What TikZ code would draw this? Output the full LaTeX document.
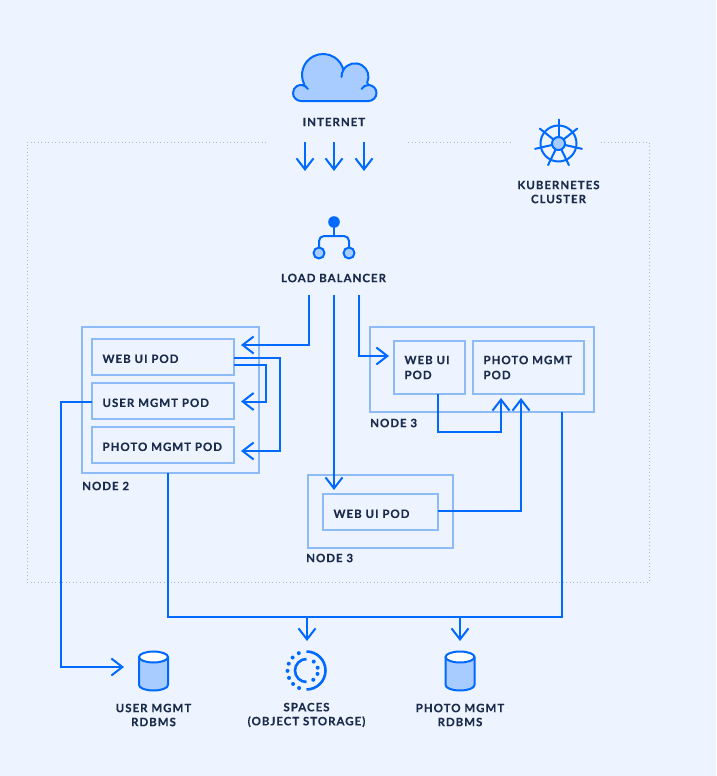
\documentclass[tikz,border=0pt]{standalone}
\usepackage{fontspec}
\usetikzlibrary{arrows.meta}
\newfontfamily\diagramfont{Lato}[LetterSpace=8.5,BoldFeatures={FakeBold=0.25}]
\definecolor{pagebg}{HTML}{EDF4FF}
\definecolor{flowblue}{HTML}{0069FF}
\definecolor{boxblue}{HTML}{8DBBF5}
\definecolor{iconfill}{HTML}{A8CCFF}
\definecolor{inkblue}{HTML}{1B2B4B}
\definecolor{dotgrey}{HTML}{A9B8D2}
\tikzstyle{caption}=[text=inkblue,align=center,inner sep=0pt,
                      font=\diagramfont\bfseries\fontsize{11.5}{14}\selectfont]
\tikzstyle{nodebox}=[rectangle,draw=boxblue,line width=1.5pt,inner sep=0pt,outer sep=0pt]
\tikzstyle{podbox}=[nodebox,text=inkblue,align=left,inner xsep=10.5pt,inner ysep=0pt,
                      font=\diagramfont\bfseries\fontsize{11.5}{15}\selectfont]
\tikzstyle{flow}=[draw=flowblue,line width=2pt,-{Straight Barb[length=11pt,width=17pt]}]
\tikzstyle{wire}=[draw=flowblue,line width=2pt]
\tikzstyle{icon}=[draw=flowblue,line width=2pt,line join=round,line cap=round]
\newcommand\dbicon[2]{
    	\fill [iconfill] (#1-14.5,#2-28) -- (#1-14.5,#2) arc[start angle=180,end angle=0,x radius=14.5,y radius=5.5] -- (#1+14.5,#2-28) -- cycle;
    	\draw [icon] (#1-14.5,#2-28) -- (#1-14.5,#2) arc[start angle=180,end angle=0,x radius=14.5,y radius=5.5] -- (#1+14.5,#2-28);
    	\draw [icon,fill=white] (#1,#2-28) ellipse[x radius=14.5,y radius=5.5];
}

\begin{document}
\begin{tikzpicture}[x=1pt,y=-1pt]
    	\fill [pagebg] (0,0) rectangle (716,776);
    	\useasboundingbox (0,0) rectangle (716,776);
    	% cluster outline
    	\draw [dotgrey,line width=1pt,dash pattern=on 1pt off 2.5pt] (266,142) -- (27,142) -- (27,582) -- (649,582) -- (649,142) -- (600,142);
    	\draw [dotgrey,line width=1pt,dash pattern=on 1pt off 2.5pt] (408,142) -- (510,142);
    	% internet
    	\draw [icon,fill=iconfill] (301,101) arc[start angle=90,end angle=280,radius=8] -- (304.3,84.5)
    		arc[start angle=153,end angle=346,radius=21] arc[start angle=211,end angle=385,radius=13.5]
    		-- (368.5,85) arc[start angle=-90,end angle=90,radius=8] -- cycle;
    	\draw [icon] (302.4,85.1) arc[start angle=280,end angle=330,radius=8];
    	\draw [icon] (368.5,85) arc[start angle=270,end angle=210,radius=8];
    	\draw [icon] (343.4,70) arc[start angle=211,end angle=180,radius=13.5];
    	\node [caption] (internet) at (334,122) {INTERNET};
    	\coordinate (neta) at (305,142);
    	\coordinate (netb) at (334,142);
    	\coordinate (netc) at (364,142);
    	\coordinate (neta end) at (305,171);
    	\coordinate (netb end) at (334,171);
    	\coordinate (netc end) at (364,171);
    	\draw [flow] (neta) -- (neta end);
    	\draw [flow] (netb) -- (netb end);
    	\draw [flow] (netc) -- (netc end);
    	% kubernetes
    	\foreach \ang in {0,1,...,6}
    		\draw [icon] (558.5,143.5)+(-90+\ang*51.43:6.5) -- +(-90+\ang*51.43:24);
    	\draw [icon] (558.5,143.5) circle[radius=18];
    	\draw [icon,fill=iconfill] (558.5,143.5) circle[radius=6.5];
    	\node [caption] (kubernetes) at (558.5,192) {KUBERNETES\\CLUSTER};
    	% load balancer
    	\draw [icon] (334,222) -- (334,236);
    	\draw [icon,rounded corners=5pt] (319,253) -- (319,236) -- (349,236) -- (349,253);
    	\draw [icon,fill=iconfill] (319,253) circle[radius=5.5];
    	\draw [icon,fill=iconfill] (349,253) circle[radius=5.5];
    	\fill [flowblue] (334,222) circle[radius=5.8];
    	\node [caption] (loadbalancer) at (333.5,278) {LOAD BALANCER};
    	% node 2
    	\node [nodebox,minimum width=177pt,minimum height=146pt] (nodetwo) at (170.5,400) {};
    	\node [podbox,text width=121pt,minimum height=36pt,text height=12pt] (webpodb) at (163,357) {WEB UI POD};
    	\node [podbox,text width=121pt,minimum height=36pt,text height=12pt] (userpod) at (163,401) {USER MGMT POD};
    	\node [podbox,text width=121pt,minimum height=36pt,text height=12pt] (photopodb) at (163,445) {PHOTO MGMT POD};
    	\node [caption,anchor=west] (nodetwolabel) at (82,486) {NODE 2};
    	% node 3, right
    	\node [nodebox,minimum width=224pt,minimum height=85pt] (nodethree) at (482,369.5) {};
    	\node [podbox,text width=50pt,minimum height=53pt] (webpodr) at (429.5,367.5) {WEB UI\\POD};
    	\node [podbox,text width=90pt,minimum height=53pt] (photopodr) at (528.5,367.5) {PHOTO MGMT\\POD};
    	\node [caption,anchor=west] (nodethreelabel) at (370,423) {NODE 3};
    	% node 3, middle
    	\node [nodebox,minimum width=145pt,minimum height=73pt] (nodemid) at (380.5,511.5) {};
    	\node [podbox,text width=94pt,minimum height=36pt,text height=12pt] (webpodm) at (380.5,512) {WEB UI POD};
    	\node [caption,anchor=west] (nodemidlabel) at (306,558) {NODE 3};
    	% storage
    	\dbicon{153.5}{685}
    	\dbicon{460}{685}
    	\draw [flowblue,line width=2.6pt] (306.5,651.5) arc[start angle=-90,end angle=90,radius=19];
    	\draw [flowblue,line width=2.6pt] (306.5,659) arc[start angle=-90,end angle=-270,radius=11.5];
    	\foreach \ang in {113,135,157,179,201,223,246}
    		\fill [flowblue] (306.5,670.5)+(\ang:19) circle[radius=2];
    	\foreach \ang in {-51,-14,17,54}
    		\fill [flowblue] (306.5,670.5)+(\ang:11.5) circle[radius=2];
    	\node [caption] (userdb) at (153.5,715) {USER MGMT\\RDBMS};
    	\node [caption] (spaces) at (306.5,715) {SPACES\\(OBJECT STORAGE)};
    	\node [caption] (photodb) at (460,715) {PHOTO MGMT\\RDBMS};
    	% connectors
    	\coordinate (lba) at (309,295);
    	\coordinate (lbb) at (334,295);
    	\coordinate (lbc) at (359,295);
    	\coordinate (webin) at (241,345);
    	\coordinate (midin) at (334,490);
    	\coordinate (rightin) at (389,356);
    	\draw [flow] (lba) |- (webin);
    	\draw [flow] (lbb) -- (midin);
    	\draw [flow] (lbc) |- (rightin);
    	\coordinate (webouta) at (234,358);
    	\coordinate (weboutb) at (234,365);
    	\coordinate (userin) at (241,401.5);
    	\coordinate (photoin) at (241,451);
    	\draw [flow] (weboutb) -- (266,365) |- (userin);
    	\draw [flow] (webouta) -- (280,358) |- (photoin);
    	\coordinate (userout) at (92,401.5);
    	\coordinate (userdbin) at (124,667);
    	\draw [flow] (userout) -- (61,401.5) |- (userdbin);
    	\coordinate (photoa) at (501,398);
    	\coordinate (photob) at (521,398);
    	\coordinate (webrout) at (438,394);
    	\coordinate (webmout) at (438,511);
    	\draw [flow] (webrout) |- (501,432) -- (photoa);
    	\draw [flow] (webmout) -| (photob);
    	\coordinate (busleft) at (168,473);
    	\coordinate (busright) at (562,412);
    	\coordinate (spacesin) at (307,641);
    	\coordinate (photodbin) at (460,641);
    	\draw [wire] (busleft) |- (562,617) -- (busright);
    	\draw [flow] (307,617) -- (spacesin);
    	\draw [flow] (460,617) -- (photodbin);
\end{tikzpicture}
\end{document}
